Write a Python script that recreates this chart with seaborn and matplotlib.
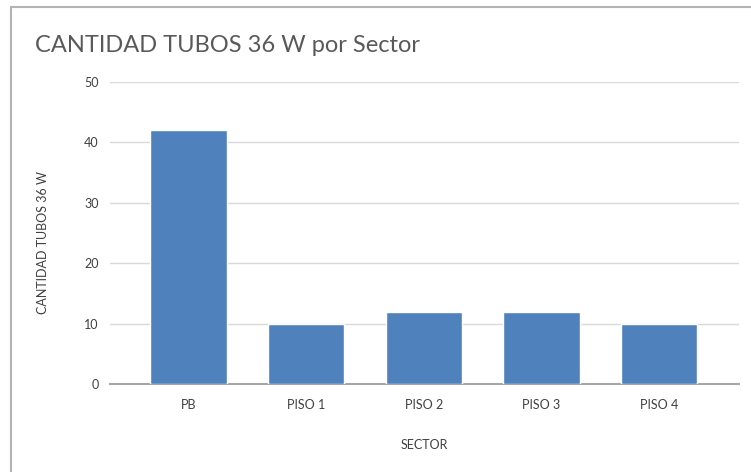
import numpy as np
import pandas as pd
import seaborn as sns
import matplotlib.pyplot as plt
from matplotlib.patches import Rectangle

sectores = ['PB', 'PISO 1', 'PISO 2', 'PISO 3', 'PISO 4']
cantidad = [42, 10, 12, 12, 10]
y_ticks = [0, 10, 20, 30, 40, 50]

df = pd.DataFrame({'SECTOR': sectores, 'CANTIDAD': cantidad})

sns.set_theme(style='white')
plt.rcParams['font.family'] = ['Lato', 'DejaVu Sans']

W, H = 751, 472
fig = plt.figure(figsize=(W / 100, H / 100), dpi=100)
ax = fig.add_axes([110 / W, 1 - 384 / H, (739 - 110) / W, (384 - 82) / H])

sns.barplot(data=df, x='SECTOR', y='CANTIDAD', color='#4f81bd', saturation=1,
            width=0.65, ax=ax, zorder=3)

ax.set_ylim(0, 50)
ax.set_yticks(y_ticks)
ax.set_xlim(-0.667, 4.68)
ax.grid(axis='y', color='#d9d9d9', linewidth=1, zorder=0)
for s in ['top', 'right', 'left']:
    ax.spines[s].set_visible(False)
ax.spines['bottom'].set_color('#a6a6a6')
ax.spines['bottom'].set_linewidth(1.5)
ax.tick_params(axis='both', length=0, labelsize=9, labelcolor='#404040')
ax.tick_params(axis='y', pad=8)
ax.tick_params(axis='x', pad=11)

ax.set_xlabel('SECTOR', fontsize=9, color='#404040', labelpad=20)
ax.set_ylabel('CANTIDAD TUBOS 36 W', fontsize=9, color='#404040')
ax.yaxis.set_label_coords(-0.097, 0.47)

fig.text(35 / W, 1 - 46 / H, 'CANTIDAD TUBOS 36 W por Sector', fontsize=17,
         color='#595959', va='center', ha='left')

# chart frame
fig.patches.append(Rectangle((11 / W, -0.1), 1.2, 1 - 7 / H + 0.1,
                             transform=fig.transFigure, fill=False,
                             edgecolor='#b3b3b3', linewidth=1.5))

fig.savefig('out.png', dpi=100)
